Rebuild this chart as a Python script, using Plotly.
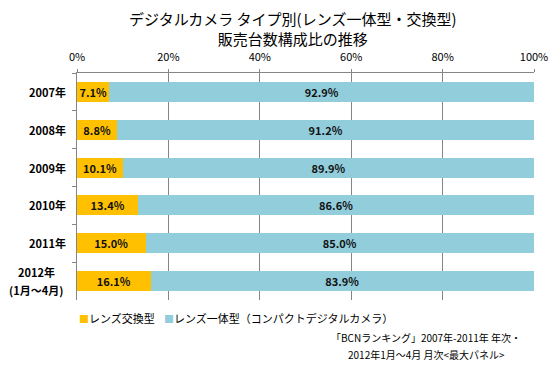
import plotly.graph_objects as go

categories = ["2007年", "2008年", "2009年", "2010年", "2011年", "2012年<br>(1月～4月)"]
interchangeable = [7.1, 8.8, 10.1, 13.4, 15.0, 16.1]
compact = [92.9, 91.2, 89.9, 86.6, 85.0, 83.9]
series_names = ["レンズ交換型", "レンズ一体型（コンパクトデジタルカメラ）"]
series_colors = ["#FFC000", "#92CDDC"]
x_ticks = [0, 20, 40, 60, 80, 100]
source_lines = ["「BCNランキング」2007年-2011年 年次・", "2012年1月～4月 月次&lt;最大パネル&gt;"]

FONT = "Noto Sans CJK JP, Meiryo, sans-serif"
PL, PR, PT, PB = 77, 534, 73, 300
PW, PH = PR - PL, PB - PT

def px_x(x):
    return (x - PL) / PW

def px_y(y):
    return (PB - y) / PH

fig = go.Figure()
for vals, name, col in [(interchangeable, series_names[0], series_colors[0]),
                        (compact, series_names[1], series_colors[1])]:
    fig.add_trace(go.Bar(
        y=categories, x=vals, orientation="h", name=name,
        marker=dict(color=col, line=dict(width=0)),
        text=[f"{v:.1f}%" for v in vals], textposition="inside",
        insidetextanchor="middle", constraintext="none",
        textfont=dict(family=FONT, size=11, color="#111111", weight="bold"),
        hoverinfo="skip", showlegend=False,
    ))

# category labels drawn as annotations so multi-line labels get Excel-like spacing
cat_ann = []
for cat in categories:
    lines = cat.split("<br>")
    n = len(lines)
    for i, line in enumerate(lines):
        shift = (n - 1) * 9 - i * 18
        cat_ann.append(dict(
            text=line, xref="paper", yref="y", x=px_x(68), y=cat,
            xanchor="right" if n == 1 else "center", yanchor="middle",
            yshift=shift, xshift=0 if n == 1 else -32, showarrow=False,
            font=dict(size=11, family=FONT, color="#000", weight="bold")))

legend_ann = []
legend_x = [77, 162]
for name, col, lx in zip(series_names, series_colors, legend_x):
    legend_ann.append(dict(
        text=f"<span style='color:{col};font-size:10px'>■</span>{name}",
        xref="paper", yref="paper", x=px_x(lx), y=px_y(318),
        xanchor="left", yanchor="middle", showarrow=False,
        font=dict(size=11, family=FONT, color="#000")))

source_ann = []
for line, ly in zip(source_lines, [337, 354]):
    source_ann.append(dict(
        text=line, xref="paper", yref="paper", x=px_x(426), y=px_y(ly),
        xanchor="center", yanchor="middle", showarrow=False,
        font=dict(size=10, family=FONT, color="#000")))

fig.update_layout(
    barmode="stack",
    bargap=0.47,
    width=552, height=366,
    margin=dict(l=PL, r=552 - PR, t=PT, b=366 - PB, autoexpand=False),
    paper_bgcolor="white", plot_bgcolor="white",
    font=dict(family=FONT, size=11, color="#000"),
    showlegend=False,
    xaxis=dict(
        side="top", range=[0, 100], tickvals=x_ticks,
        ticktext=[f"{t}%" for t in x_ticks],
        showgrid=True, gridcolor="#868686", gridwidth=1,
        showline=True, linecolor="#868686", linewidth=1,
        ticks="outside", ticklen=3, tickcolor="#868686",
        ticklabelstandoff=4, automargin=False,
        zeroline=False, tickfont=dict(size=11, family=FONT), fixedrange=True,
    ),
    yaxis=dict(
        autorange="reversed", type="category",
        showgrid=False, showline=True, linecolor="#868686", linewidth=1,
        ticks="outside", tickson="boundaries", ticklen=4, tickcolor="#868686",
        showticklabels=False, automargin=False, fixedrange=True,
    ),
    annotations=[
        dict(text="デジタルカメラ タイプ別(レンズ一体型・交換型)<br>販売台数構成比の推移",
             xref="paper", yref="paper", x=px_x(292), y=px_y(6),
             xanchor="center", yanchor="top", showarrow=False, align="center",
             font=dict(size=15, family=FONT, color="#000")),
    ] + cat_ann + legend_ann + source_ann,
)

fig.write_html("out.html", config={"displayModeBar": False, "staticPlot": True},
               post_script="document.body.style.margin='0';document.body.style.overflow='hidden';")
